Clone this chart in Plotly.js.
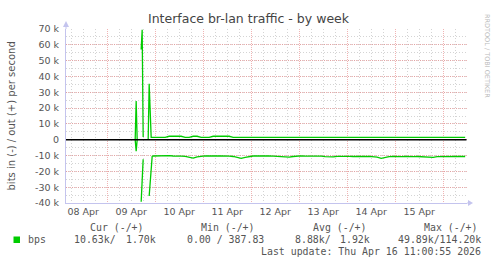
<!DOCTYPE html>
<html>
<head>
<meta charset="utf-8">
<script src="https://cdn.plot.ly/plotly-3.0.1.min.js"></script>
<style>html,body{margin:0;padding:0;background:#fff;}#chart{width:497px;height:264px;}</style>
</head>
<body>
<div id="chart"></div>
<script>
// ---- data ----
// spike period on 09 Apr (30-min samples, null = unknown)
const outSpikeTimes = ['2026-04-09 14:00','2026-04-09 14:30','2026-04-09 15:00','2026-04-09 15:30',
  '2026-04-09 17:00','2026-04-09 17:30','2026-04-09 18:00','2026-04-09 18:30',
  '2026-04-09 20:30','2026-04-09 21:00','2026-04-09 22:00'];
const outSpikeValues = [0, 24400, 0, null, 57000, 69500, 1700, null, 0, 35400, 1500];

const inSpikeTimes = ['2026-04-09 14:00','2026-04-09 14:30','2026-04-09 15:00','2026-04-09 15:30',
  '2026-04-09 17:00','2026-04-09 18:00','2026-04-09 20:30','2026-04-09 21:00','2026-04-09 22:30'];
const inSpikeValues = [0, -7200, 0, null, -39200, -12400, null, -35600, -10600];

// steady period: 2-hourly samples from 09 Apr 23:00 to 16 Apr 11:00
const steadyStart = '2026-04-09 23:00';
const steadyStepHours = 2;
const outSteady = [
  1500,1500,1500,1500,2200,2200,2200,2200,1500,1500,
  2200,2200,1500,1500,1500,2200,2200,2200,2200,2200,
  1500,1500,1500,1500,1500,1500,1500,1500,1500,1500,
  1500,1500,1500,1500,1500,1500,1500,1500,1500,1500,
  1500,1500,1500,1500,1500,1500,1500,1500,1500,1500,
  1500,1500,1500,1500,1500,1500,1500,1500,1500,1500,
  1500,1500,1500,1500,1500,1500,1500,1500,1500,1500,
  1500,1500,1500,1500,1500,1500,1500,1500,1500];
const inSteady = [
  -10300,-10200,-10400,-10300,-10100,-10300,-10200,-10400,-10500,-10900,
  -11600,-10800,-10300,-10200,-10300,-10100,-10200,-10300,-10200,-10400,
  -10600,-11000,-11800,-11100,-10500,-10300,-10200,-10400,-10300,-10200,
  -10300,-10400,-10600,-11000,-11000,-10600,-10300,-10200,-10400,-10300,
  -10200,-10300,-10400,-10700,-11000,-10900,-10500,-10400,-10600,-10500,
  -10600,-10700,-10900,-10600,-10500,-10700,-11000,-11800,-11100,-10700,
  -10600,-10800,-10700,-10600,-10800,-10700,-10600,-10700,-10900,-11200,
  -11100,-10700,-10600,-10500,-10600,-10700,-10500,-10600,-10600];

// axis labels
const yTickValues = [-40000,-30000,-20000,-10000,0,10000,20000,30000,40000,50000,60000,70000];
const yTickLabels = ['-40 k','-30 k','-20 k','-10 k','0','10 k','20 k','30 k','40 k','50 k','60 k','70 k'];

// legend statistics (in / out)
const seriesName = 'bps';
const curVals = ['10.63k', '1.70k'];
const minVals = ['0.00', '387.83'];
const avgVals = ['8.88k', '1.92k'];
const maxVals = ['49.89k', '114.20k'];
const lastUpdate = 'Last update: Thu Apr 16 11:00:55 2026';

// ---- build ----
function steadyTimes(n) {
  const t0 = Date.parse(steadyStart.replace(' ', 'T') + ':00Z');
  const out = [];
  for (let i = 0; i < n; i++) {
    out.push(new Date(t0 + i * steadyStepHours * 3600000).toISOString().slice(0, 16).replace('T', ' '));
  }
  return out;
}
const sT = steadyTimes(outSteady.length);

const GREEN = '#00CC00';
const traces = [
  {x: outSpikeTimes.concat(sT), y: outSpikeValues.concat(outSteady), type: 'scatter', mode: 'lines',
   line: {color: GREEN, width: 1.3}, connectgaps: false, hoverinfo: 'skip'},
  {x: inSpikeTimes.concat(sT), y: inSpikeValues.concat(inSteady), type: 'scatter', mode: 'lines',
   line: {color: GREEN, width: 1.3}, connectgaps: false, hoverinfo: 'skip'}
];

const L = 66, T = 29, W = 401, H = 174;
const fx = p => (p - L) / W;
const fy = p => (T + H - p) / H;

const TXT = '#555';
const MONO = {family: 'DejaVu Sans Mono, monospace', size: 9.9, color: TXT};
function ann(text, x, y, xa) {
  return {text: text, xref: 'paper', yref: 'paper', x: fx(x), y: fy(y), xanchor: xa, yanchor: 'middle',
    showarrow: false, font: MONO, borderpad: 0};
}

const AXC = '#c4c4ee';
const MAJ = 'rgba(230,130,130,0.6)';
const MIN = '#d4d4d4';
const layout = {
  width: 497, height: 264,
  margin: {l: L, r: 497 - L - W, t: T, b: 264 - T - H},
  paper_bgcolor: '#ffffff', plot_bgcolor: '#ffffff',
  showlegend: false,
  title: {text: 'Interface br-lan traffic - by week', x: 0.5, xref: 'container', xanchor: 'center',
    y: 1 - 18.5 / 264, yref: 'container', yanchor: 'middle',
    font: {family: 'DejaVu Sans, sans-serif', size: 12.5, color: '#444'}},
  xaxis: {
    type: 'date', range: ['2026-04-08 03:25', '2026-04-16 11:55'],
    tickmode: 'linear', tick0: '2026-04-08', dtick: 86400000,
    ticklabelmode: 'period', tickformat: '%d %b',
    ticks: '', showgrid: true, gridcolor: MAJ, griddash: '1px,1px', gridwidth: 1,
    minor: {tickmode: 'linear', tick0: '2026-04-08', dtick: 21600000, showgrid: true,
      gridcolor: MIN, griddash: '1px,2px', gridwidth: 1, ticks: ''},
    showline: true, linecolor: AXC, linewidth: 1, zeroline: false,
    tickfont: {family: 'DejaVu Sans, sans-serif', size: 9.5, color: TXT},
    fixedrange: true
  },
  yaxis: {
    range: [-40000, 70000], tickmode: 'array', tickvals: yTickValues, ticktext: yTickLabels,
    ticks: '', ticklabelstandoff: 4,
    showgrid: true, gridcolor: MAJ, griddash: '1px,1px', gridwidth: 1,
    minor: {tickmode: 'linear', tick0: 0, dtick: 5000, showgrid: true,
      gridcolor: MIN, griddash: '1px,2px', gridwidth: 1, ticks: ''},
    showline: true, linecolor: AXC, linewidth: 1, zeroline: false,
    tickfont: {family: 'DejaVu Sans, sans-serif', size: 9.5, color: TXT},
    fixedrange: true
  },
  shapes: [
    {type: 'line', xref: 'paper', yref: 'y', x0: 0, x1: fx(466.5), y0: 0, y1: 0, layer: 'above',
     line: {color: '#000000', width: 1.3}},
    {type: 'line', xref: 'paper', yref: 'paper', x0: 1, x1: fx(470), y0: 0, y1: 0, line: {color: AXC, width: 1}},
    {type: 'line', xref: 'paper', yref: 'paper', x0: 0, x1: 0, y0: 1, y1: fy(24), line: {color: AXC, width: 1}},
    {type: 'path', xref: 'paper', yref: 'paper', fillcolor: AXC, line: {width: 0},
     path: `M ${fx(468)} ${fy(200)} L ${fx(473)} ${fy(203)} L ${fx(468)} ${fy(206)} Z`},
    {type: 'path', xref: 'paper', yref: 'paper', fillcolor: AXC, line: {width: 0},
     path: `M ${fx(63)} ${fy(27)} L ${fx(66)} ${fy(21)} L ${fx(69)} ${fy(27)} Z`},
    {type: 'rect', xref: 'paper', yref: 'paper', x0: fx(13.5), x1: fx(20), y0: fy(236.5), y1: fy(243),
     fillcolor: GREEN, line: {width: 0}}
  ],
  annotations: [
    {text: 'bits in (-) / out (+) per second', xref: 'paper', yref: 'paper', x: fx(10.5), y: 0.5,
     xanchor: 'center', yanchor: 'middle', textangle: -90, showarrow: false,
     font: {family: 'DejaVu Sans, sans-serif', size: 10, color: TXT}},
    {text: 'RRDTOOL / TOBI OETIKER', xref: 'paper', yref: 'paper', x: fx(487), y: fy(56),
     xanchor: 'center', yanchor: 'middle', textangle: 90, showarrow: false,
     font: {family: 'DejaVu Sans, sans-serif', size: 6.5, color: '#bbbbbb'}},
    ann('Cur (-/+)', 89, 227, 'left'),
    ann('Min (-/+)', 200, 227, 'left'),
    ann('Avg (-/+)', 311.5, 227, 'left'),
    ann('Max (-/+)', 422.5, 227, 'left'),
    ann(seriesName, 27, 239.5, 'left'),
    ann(curVals[0] + '/', 72.5, 239.5, 'left'),
    ann(curVals[1], 157, 239.5, 'right'),
    ann(minVals[0] + ' / ' + minVals[1], 185.5, 239.5, 'left'),
    ann(avgVals[0] + '/', 294, 239.5, 'left'),
    ann(avgVals[1], 371, 239.5, 'right'),
    ann(maxVals[0] + '/' + maxVals[1], 482, 239.5, 'right'),
    ann(lastUpdate, 482, 251, 'right')
  ]
};

Plotly.newPlot('chart', traces, layout, {staticPlot: true, displayModeBar: false});
</script>
</body>
</html>
